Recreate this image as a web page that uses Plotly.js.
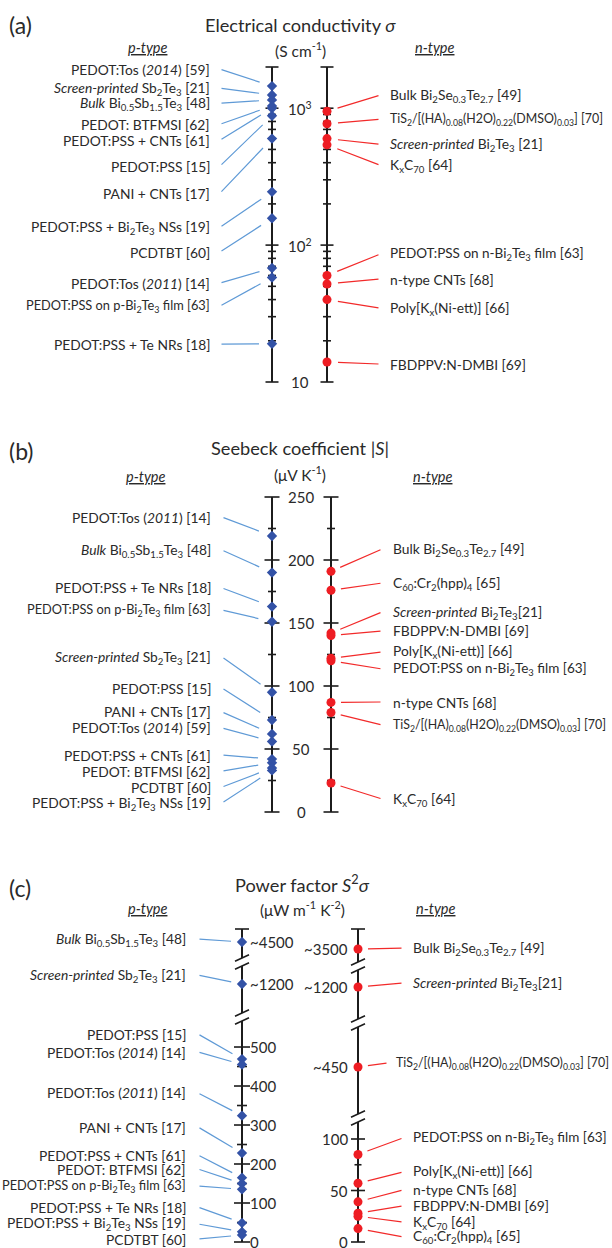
<!DOCTYPE html>
<html><head><meta charset="utf-8">
<script src="https://cdn.plot.ly/plotly-3.0.1.min.js"></script>
<style>html,body{margin:0;padding:0;background:#fff}</style>
</head><body><div id="chart" style="width:612px;height:1248px"></div>
<script>
// ================= DATA =================
// (a) Electrical conductivity sigma (S cm^-1), log scale
const condP_labels = [
  "PEDOT:Tos (<i>2014</i>) [59]",
  "<i>Screen-printed</i> Sb<sub>2</sub>Te<sub>3</sub> [21]",
  "<i>Bulk</i> Bi<sub>0.5</sub>Sb<sub>1.5</sub>Te<sub>3</sub> [48]",
  "PEDOT: BTFMSI [62]",
  "PEDOT:PSS + CNTs [61]",
  "PEDOT:PSS [15]",
  "PANI + CNTs [17]",
  "PEDOT:PSS + Bi<sub>2</sub>Te<sub>3</sub> NSs [19]",
  "PCDTBT [60]",
  "PEDOT:Tos (<i>2011</i>) [14]",
  "PEDOT:PSS on p-Bi<sub>2</sub>Te<sub>3</sub> film [63]",
  "PEDOT:PSS + Te NRs [18]"
];
const condP_values = [1450, 1250, 1150, 1040, 1000, 880, 600, 245, 157, 68, 58, 19];
const condN_labels = [
  "Bulk Bi<sub>2</sub>Se<sub>0.3</sub>Te<sub>2.7</sub> [49]",
  "TIS2",
  "<i>Screen-printed</i> Bi<sub>2</sub>Te<sub>3</sub> [21]",
  "K<sub>x</sub>C<sub>70</sub> [64]",
  "PEDOT:PSS on n-Bi<sub>2</sub>Te<sub>3</sub> film [63]",
  "n-type CNTs [68]",
  "Poly[K<sub>x</sub>(Ni-ett)] [66]",
  "FBDPPV:N-DMBI [69]"
];
const condN_values = [950, 770, 600, 540, 60, 52, 40, 14];
const condTicksMajor = [10, 100, 1000, 2000];
const condTicksMinor = [20, 30, 40, 50, 60, 70, 80, 90, 200, 300, 400, 500, 600, 700, 800, 900];
const condTickLabels = ["10", "10<sup>2</sup>", "10<sup>3</sup>"];
const condTickLabelVals = [10, 100, 1000];

// (b) Seebeck coefficient |S| (uV K^-1)
const seebP_labels = [
  "PEDOT:Tos (<i>2011</i>) [14]",
  "<i>Bulk</i> Bi<sub>0.5</sub>Sb<sub>1.5</sub>Te<sub>3</sub> [48]",
  "PEDOT:PSS + Te NRs [18]",
  "PEDOT:PSS on p-Bi<sub>2</sub>Te<sub>3</sub> film [63]",
  "<i>Screen-printed</i> Sb<sub>2</sub>Te<sub>3</sub> [21]",
  "PEDOT:PSS [15]",
  "PANI + CNTs [17]",
  "PEDOT:Tos (<i>2014</i>) [59]",
  "PEDOT:PSS + CNTs [61]",
  "PEDOT: BTFMSI [62]",
  "PCDTBT [60]",
  "PEDOT:PSS + Bi<sub>2</sub>Te<sub>3</sub> NSs [19]"
];
const seebP_values = [219, 190, 163, 151, 95, 73, 62, 56, 42, 39, 35, 33];
const seebN_labels = [
  "Bulk Bi<sub>2</sub>Se<sub>0.3</sub>Te<sub>2.7</sub> [49]",
  "C<sub>60</sub>:Cr<sub>2</sub>(hpp)<sub>4</sub> [65]",
  "<i>Screen-printed</i> Bi<sub>2</sub>Te<sub>3</sub>[21]",
  "FBDPPV:N-DMBI [69]",
  "Poly[K<sub>x</sub>(Ni-ett)] [66]",
  "PEDOT:PSS on n-Bi<sub>2</sub>Te<sub>3</sub> film [63]",
  "n-type CNTs [68]",
  "TIS2",
  "K<sub>x</sub>C<sub>70</sub> [64]"
];
const seebN_values = [191, 176, 142, 140, 122, 120, 87, 79, 23];
const seebTicksMajor = [0, 50, 100, 150, 200, 250];
const seebTicksMinor = [25, 75, 125, 175, 225];

// (c) Power factor S^2 sigma (uW m^-1 K^-2), broken axes
const pfP_labels = [
  "<i>Bulk</i> Bi<sub>0.5</sub>Sb<sub>1.5</sub>Te<sub>3</sub> [48]",
  "<i>Screen-printed</i> Sb<sub>2</sub>Te<sub>3</sub> [21]",
  "PEDOT:PSS [15]",
  "PEDOT:Tos (<i>2014</i>) [14]",
  "PEDOT:Tos (<i>2011</i>) [14]",
  "PANI + CNTs [17]",
  "PEDOT:PSS + CNTs [61]",
  "PEDOT: BTFMSI [62]",
  "PEDOT:PSS on p-Bi<sub>2</sub>Te<sub>3</sub> film [63]",
  "PEDOT:PSS + Te NRs [18]",
  "PEDOT:PSS + Bi<sub>2</sub>Te<sub>3</sub> NSs [19]",
  "PCDTBT [60]"
];
const pfP_values = [4500, 1200, 469, 455, 324, 228, 165, 150, 135, 49, 26, 18];
const pfN_labels = [
  "Bulk Bi<sub>2</sub>Se<sub>0.3</sub>Te<sub>2.7</sub> [49]",
  "<i>Screen-printed</i> Bi<sub>2</sub>Te<sub>3</sub>[21]",
  "TIS2",
  "PEDOT:PSS on n-Bi<sub>2</sub>Te<sub>3</sub> film [63]",
  "Poly[K<sub>x</sub>(Ni-ett)] [66]",
  "n-type CNTs [68]",
  "FBDPPV:N-DMBI [69]",
  "K<sub>x</sub>C<sub>70</sub> [64]",
  "C<sub>60</sub>:Cr<sub>2</sub>(hpp)<sub>4</sub> [65]"
];
const pfN_values = [3500, 1200, 450, 85, 57, 39, 28, 25, 13];
const pfPTicksMajor = [0, 100, 200, 300, 400, 500];
const pfPTicksMinor = [50, 150, 250, 350, 450];
const pfNTicksMajor = [0, 50, 100];
const pfNTicksMinor = [25, 75];

const TIS2 = "TiS<sub>2</sub>/[(HA)<sub>0.08</sub>(H2O)<sub>0.22</sub>(DMSO)<sub>0.03</sub>] [70]";

// ================= LAYOUT POSITIONS (label anchors, in each axis' units) =================
const condP_labelY = [3.285, 3.146, 3.036, 2.883, 2.766, 2.577, 2.380, 2.131, 1.949, 1.723, 1.555, 1.277]; // log10
const condN_labelY = [3.095, 2.920, 2.737, 2.584, 1.934, 1.752, 1.540, 1.131]; // log10
const seebP_labelY = [234.1, 207.9, 177.8, 160.3, 123.0, 98.4, 79.4, 66.7, 45.2, 32.5, 19.8, 7.1];
const seebN_labelY = [208.7, 181.7, 158.7, 143.7, 127.0, 113.5, 87.3, 69.0, 10.3];
const pfP_labelY = [4530, 1245, 533.3, 487.2, 382.1, 294.9, 223.1, 187.2, 143.6, 89.7, 46.2, 7.7];
const pfN_labelY = [3510, 1220, 458, 101.0, 68.0, 50.5, 35.0, 19.4, 4.9];

// ================= STYLE =================
const W = 612, H = 1248;
const FONT = "Lato, 'Open Sans', sans-serif";
const TXT = "#2a2a2a";
const AXC = "#1c1c1c";
const BLUE = "#3352a6", RED = "#ee1d23";
const BLUE_L = "#5f9ad6", RED_L = "#f22a2a";
const LBL = 13.8, TICK = 15;
const pyp = p => 1 - p / H;                 // pixel row -> paper
const dom = (bot, top) => [pyp(bot), pyp(top)];

const layout = {
  width: W, height: H, margin: {l: 0, r: 0, t: 0, b: 0},
  paper_bgcolor: "#fff", plot_bgcolor: "rgba(0,0,0,0)",
  showlegend: false, hovermode: false,
  font: {family: FONT, color: TXT},
  xaxis: {domain: [0, 1], range: [0, W], visible: false, fixedrange: true},
  yaxis: {domain: [0, 1], range: [H, 0], visible: false, anchor: "x"},
  shapes: [], annotations: []
};
const traces = [];

function addY(id, d, range, type) {
  layout["yaxis" + id.slice(1)] = {domain: d, range: range, type: type || "linear", visible: false, anchor: "x", fixedrange: true};
}

// axes definitions
addY("y2", dom(382, 67), [1, Math.log10(2000)], "log");        // (a)
addY("y3", dom(812, 497), [0, 250]);                              // (b)
// (c) left segments
const cLsegs = [
  {id: "y4", d: dom(958, 929), r: [4340, 4630], top: true},
  {id: "y5", d: dom(1013, 966), r: [1055, 1290]},
  {id: "y6", d: dom(1242, 1021), r: [0, 566.7], low: true}
];
// (c) right segments
const cRsegs = [
  {id: "y7", d: dom(962, 929), r: [3370, 3700], top: true},
  {id: "y8", d: dom(1019, 970), r: [1040, 1285]},
  {id: "y9", d: dom(1114, 1027), r: [356, 530]},
  {id: "y10", d: dom(1242, 1122), r: [0, 116.5], low: true}
];
cLsegs.concat(cRsegs).forEach(s => addY(s.id, s.d, s.r));

function axisLine(yref, x) {
  layout.shapes.push({type: "line", xref: "x", yref: yref + " domain", x0: x, x1: x, y0: 0, y1: 1,
    line: {color: AXC, width: 2}, layer: "below"});
}
function cap(yref, x, len) {
  layout.shapes.push({type: "line", xref: "x", yref: yref + " domain", x0: x - len / 2, x1: x + len / 2, y0: 1, y1: 1,
    line: {color: AXC, width: 1.6}});
}
function ticks(yref, x, vals, len) {
  traces.push({type: "scatter", mode: "markers", xaxis: "x", yaxis: yref,
    x: vals.map(() => x), y: vals, cliponaxis: false, hoverinfo: "skip",
    marker: {symbol: "line-ew", size: len / 1.4, color: AXC, line: {width: 1.6, color: AXC}}});
}
function points(yref, x, vals, color, symbol, size) {
  traces.push({type: "scatter", mode: "markers", xaxis: "x", yaxis: yref,
    x: vals.map(() => x), y: vals, cliponaxis: false, hoverinfo: "skip",
    marker: {symbol: symbol, size: size, color: color, line: {width: 0}}});
}
function text(xref, yref, x, y, t, anchor, size, extra) {
  layout.annotations.push(Object.assign({xref: xref, yref: yref, x: x, y: y, text: t, showarrow: false,
    xanchor: anchor, yanchor: "middle", font: {family: FONT, size: size, color: TXT}, borderpad: 0}, extra || {}));
}
function leader(yref, headX, headY, tailX, tailY, color, standoff) {
  layout.annotations.push({xref: "x", yref: yref, x: headX, y: headY, axref: "x", ayref: yref, ax: tailX, ay: tailY,
    text: "", showarrow: true, arrowhead: 0, arrowwidth: 1.2, arrowcolor: color, standoff: standoff});
}
function lbl(t) { return t === "TIS2" ? TIS2 : t; }
function lsize(t) {
  if (t === "TIS2") return 12.4;
  if (t.indexOf("p-Bi") >= 0) return 12.8;
  if (t.indexOf("n-Bi") >= 0) return 13.5;
  return LBL;
}

// ---------- headers ----------
function header(letter, yLetter, title, yTitle, units, yUnits, xC, yType, xP, xN) {
  text("paper", "paper", 8 / W, pyp(yLetter), letter, "left", 23);
  text("paper", "paper", xC / W, pyp(yTitle), title, "center", 18.2);
  text("paper", "paper", xC / W, pyp(yUnits), units, "center", 15.5);
  text("paper", "paper", xP / W, pyp(yType), "<i><u>p-type</u></i>", "center", 14.5);
  text("paper", "paper", xN / W, pyp(yType), "<i><u>n-type</u></i>", "center", 14.5);
}
header("(a)", 25, "Electrical conductivity <i>σ</i>", 25, "(S cm<sup>-1</sup>)", 50, 300, 48, 148, 435);
header("(b)", 451, "Seebeck coefficient |<i>S</i>|", 448, "(μV K<sup>-1</sup>)", 473, 300, 476, 146, 433);
header("(c)", 888, "Power factor <i>S</i><sup>2</sup><i>σ</i>", 883, "(μW m<sup>-1</sup> K<sup>-2</sup>)", 908, 302, 908, 148, 436);

// ---------- panel (a) ----------
const aL = 272, aR = 327;
axisLine("y2", aL); axisLine("y2", aR);
[aL, aR].forEach(x => { ticks("y2", x, condTicksMajor, 13); ticks("y2", x, condTicksMinor, 8); });
condTickLabelVals.forEach((v, i) => text("x", "y2", 300, Math.log10(v), condTickLabels[i], "center", TICK));
condP_values.forEach((v, i) => {
  leader("y2", aL, Math.log10(v), 220, condP_labelY[i], BLUE_L, 13);
  text("x", "y2", 211, condP_labelY[i], lbl(condP_labels[i]), "right", lsize(condP_labels[i]));
});
condN_values.forEach((v, i) => {
  leader("y2", aR, Math.log10(v), 380, condN_labelY[i], RED_L, 11);
  text("x", "y2", 389, condN_labelY[i], lbl(condN_labels[i]), "left", lsize(condN_labels[i]));
});
points("y2", aL, condP_values, BLUE, "diamond", 8);
points("y2", aR, condN_values, RED, "circle", 9);

// ---------- panel (b) ----------
const bL = 272, bR = 331;
axisLine("y3", bL); axisLine("y3", bR);
[bL, bR].forEach(x => { ticks("y3", x, seebTicksMajor, 15); ticks("y3", x, seebTicksMinor, 8); });
seebTicksMajor.forEach(v => text("x", "y3", 301, v, String(v), "center", TICK));
seebP_values.forEach((v, i) => {
  leader("y3", bL, v, 222, seebP_labelY[i], BLUE_L, 14);
  text("x", "y3", 212, seebP_labelY[i], lbl(seebP_labels[i]), "right", lsize(seebP_labels[i]));
});
seebN_values.forEach((v, i) => {
  leader("y3", bR, v, 382, seebN_labelY[i], RED_L, 10);
  text("x", "y3", 392, seebN_labelY[i], lbl(seebN_labels[i]), "left", lsize(seebN_labels[i]));
});
points("y3", bL, seebP_values, BLUE, "diamond", 8);
points("y3", bR, seebN_values, RED, "circle", 9);

// ---------- panel (c) ----------
const cL = 242, cR = 358;
function segOf(segs, v) { return segs.find(s => v >= s.r[0] && v <= s.r[1]); }
function breaks(segs, x) {
  // double-slash marks at the gaps between consecutive segments
  for (let k = 0; k < segs.length - 1; k++) {
    const upperBottom = (1 - segs[k].d[0]) * H, lowerTop = (1 - segs[k + 1].d[1]) * H;
    [upperBottom, lowerTop].forEach(yp => layout.shapes.push({type: "line", xref: "x", yref: "paper",
      x0: x - 7, x1: x + 7, y0: pyp(yp + 3.2), y1: pyp(yp - 3.2), line: {color: AXC, width: 1.6}}));
  }
}
function brokenAxis(segs, x, values, labels, labelY, side, majors, minors, majLen, minLen, color, lcolor, sym, msize, tickX, tickAnchor, labelX, tailX, standoff) {
  segs.forEach(s => axisLine(s.id, x));
  cap(segs[0].id, x, 14);
  breaks(segs, x);
  const low = segs[segs.length - 1];
  ticks(low.id, x, majors, majLen); ticks(low.id, x, minors, minLen);
  majors.forEach(v => text("x", low.id, tickX, v, String(v), tickAnchor, TICK));
  values.forEach((v, i) => {
    const s = segOf(segs, v);
    if (!s.low) text("x", s.id, tickX, v, "~" + v, tickAnchor, TICK);
    const tx = labels[i] === "TIS2" ? tailX + (side === "right" ? -15 : 15) : tailX;
    const lx = labels[i] === "TIS2" ? labelX + (side === "right" ? -17 : 17) : labelX;
    leader(s.id, x, v, tx, labelY[i], lcolor, standoff);
    text("x", s.id, lx, labelY[i], lbl(labels[i]), side === "left" ? "right" : "left", lsize(labels[i]));
  });
  segs.forEach(s => {
    const vs = values.filter(v => segOf(segs, v) === s);
    if (vs.length) points(s.id, x, vs, color, sym, msize);
  });
}
brokenAxis(cLsegs, cL, pfP_values, pfP_labels, pfP_labelY, "left", pfPTicksMajor, pfPTicksMinor, 16, 10,
  BLUE, BLUE_L, "diamond", 8, 249, "left", 187, 198, 11);
brokenAxis(cRsegs, cR, pfN_values, pfN_labels, pfN_labelY, "right", pfNTicksMajor, pfNTicksMinor, 14, 7,
  RED, RED_L, "circle", 9, 349, "right", 412, 403, 10);

Plotly.newPlot("chart", traces, layout, {staticPlot: true, displayModeBar: false});
</script></body></html>
